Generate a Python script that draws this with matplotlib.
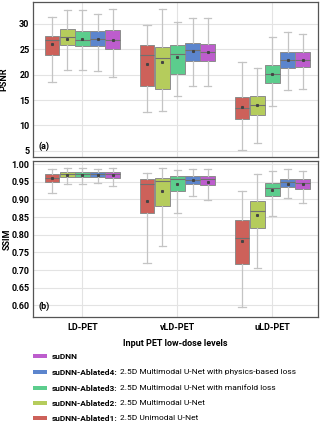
import matplotlib
matplotlib.use("Agg")
import matplotlib.pyplot as plt
from matplotlib.patches import Rectangle

plt.rcParams["font.family"] = ["Roboto", "DejaVu Sans"]

levels = ["LD-PET", "vLD-PET", "uLD-PET"]
methods = ["suDNN-Ablated1", "suDNN-Ablated2", "suDNN-Ablated3", "suDNN-Ablated4", "suDNN"]
descriptions = ["2.5D Unimodal U-Net", "2.5D Multimodal U-Net",
                "2.5D Multimodal U-Net with manifold loss",
                "2.5D Multimodal U-Net with physics-based loss", ""]
colors = ["#cd615a", "#b5cc5c", "#5ccd8d", "#5c85cd", "#bd5dcd"]

# per level, per method: (whislo, q1, median, mean, q3, whishi)
psnr = [
    [(18.6, 23.9, 26.8, 26.0, 27.7, 31.3),
     (21.0, 25.9, 27.4, 27.1, 29.0, 32.8),
     (21.0, 25.6, 26.9, 27.0, 28.6, 32.8),
     (20.8, 25.6, 27.0, 27.0, 28.6, 32.0),
     (19.6, 25.1, 26.8, 26.8, 28.8, 33.0)],
    [(12.7, 17.7, 23.9, 22.1, 25.9, 29.8),
     (12.8, 17.1, 23.3, 22.4, 25.4, 33.0),
     (15.9, 20.2, 24.1, 23.4, 25.8, 30.4),
     (17.7, 22.7, 24.8, 24.6, 26.3, 31.2),
     (17.8, 22.7, 24.5, 24.4, 26.1, 31.2)],
    [(5.1, 11.3, 13.4, 13.6, 15.7, 22.4),
     (6.6, 12.0, 14.0, 14.1, 15.9, 21.3),
     (13.8, 18.4, 20.1, 20.2, 21.9, 27.4),
     (16.9, 21.3, 22.9, 22.8, 24.4, 28.3),
     (17.2, 21.5, 22.9, 22.9, 24.4, 28.1)],
]
ssim = [
    [(0.917, 0.950, 0.962, 0.960, 0.972, 0.985),
     (0.943, 0.963, 0.971, 0.968, 0.977, 0.990),
     (0.945, 0.964, 0.972, 0.970, 0.977, 0.988),
     (0.946, 0.964, 0.971, 0.969, 0.977, 0.987),
     (0.938, 0.962, 0.973, 0.969, 0.978, 0.990)],
    [(0.720, 0.862, 0.943, 0.896, 0.957, 0.974),
     (0.769, 0.882, 0.953, 0.925, 0.962, 0.988),
     (0.863, 0.924, 0.957, 0.944, 0.967, 0.984),
     (0.910, 0.944, 0.956, 0.954, 0.967, 0.986),
     (0.898, 0.940, 0.957, 0.950, 0.967, 0.986)],
    [(0.594, 0.718, 0.790, 0.781, 0.841, 0.924),
     (0.706, 0.819, 0.866, 0.856, 0.897, 0.971),
     (0.852, 0.910, 0.932, 0.928, 0.946, 0.980),
     (0.903, 0.934, 0.949, 0.945, 0.957, 0.985),
     (0.891, 0.929, 0.947, 0.943, 0.957, 0.982)],
]

offsets = [-0.32, -0.16, 0.0, 0.16, 0.32]
width = 0.155
lc = "#c4c4c4"
fs = 6.5


def draw_panel(ax, data):
    for i, lev in enumerate(data):
        for j, (lo, q1, med, mean, q3, hi) in enumerate(lev):
            st = [{"whislo": lo, "q1": q1, "med": med, "mean": mean, "q3": q3,
                   "whishi": hi, "fliers": []}]
            ax.bxp(st, positions=[i + offsets[j]], widths=width, showmeans=True,
                   patch_artist=True, showfliers=False,
                   boxprops=dict(facecolor=colors[j], edgecolor="#8c8c8c", linewidth=0.7),
                   medianprops=dict(color="#707070", linewidth=0.8),
                   whiskerprops=dict(color=lc, linewidth=0.9),
                   capprops=dict(color=lc, linewidth=0.9),
                   meanprops=dict(marker="s", markersize=1.2, markerfacecolor="#444444",
                                  markeredgecolor="#444444"),
                   manage_ticks=False, zorder=3)
    ax.set_xlim(-0.52, 2.48)
    ax.set_xticks(range(3))
    ax.grid(True, color="#e3e3e3", linewidth=0.8, zorder=0)
    ax.set_axisbelow(True)
    for s in ax.spines.values():
        s.set_color("#555555")
        s.set_linewidth(0.9)
    ax.tick_params(length=0, labelsize=fs, pad=2.5)


fig = plt.figure(figsize=(3.23, 4.23), dpi=100)
ax1 = fig.add_axes([33 / 323, 1 - 157 / 423, 285 / 323, 155 / 423])
ax2 = fig.add_axes([33 / 323, 1 - 317 / 423, 285 / 323, 156 / 423])

draw_panel(ax1, psnr)
ax1.set_ylim(3.8, 34.3)
ax1.set_yticks([5, 10, 15, 20, 25, 30])
ax1.set_yticklabels(["5", "10", "15", "20", "25", "30"], fontweight="bold")
ax1.set_xticklabels([])
ax1.set_ylabel("PSNR", fontsize=fs, fontweight="bold")
ax1.yaxis.set_label_coords(-25 / 285, 0.5)
ax1.text(0.02, 0.05, "(a)", transform=ax1.transAxes, fontsize=fs, fontweight="bold")

draw_panel(ax2, ssim)
ax2.set_ylim(0.567, 1.009)
ssim_ticks = [0.60, 0.65, 0.70, 0.75, 0.80, 0.85, 0.90, 0.95, 1.00]
ax2.set_yticks(ssim_ticks)
ax2.set_yticklabels([f"{v:.2f}" for v in ssim_ticks], fontweight="bold")
ax2.set_xticklabels(levels, fontsize=fs, fontweight="bold")
ax2.tick_params(axis="x", pad=4)
ax2.set_ylabel("SSIM", fontsize=fs, fontweight="bold")
ax2.yaxis.set_label_coords(-21 / 285, 0.5)
ax2.set_xlabel("Input PET low-dose levels", fontsize=fs, labelpad=5, fontweight="bold")
ax2.text(0.02, 0.05, "(b)", transform=ax2.transAxes, fontsize=fs, fontweight="bold")

# legend, drawn by hand so the name is bold and the description is not
fig.canvas.draw()
renderer = fig.canvas.get_renderer()
legend_y = [418, 403, 388, 372, 356]
lfs = 6.0
for j in range(5):
    yc = 1 - legend_y[j] / 423
    fig.patches.append(Rectangle((33 / 323, yc - 2 / 423), 14 / 323, 4 / 423,
                                 transform=fig.transFigure, facecolor=colors[j],
                                 edgecolor="none"))
    name = methods[j] + (":" if descriptions[j] else "")
    t = fig.text(52 / 323, yc, name, fontsize=lfs, va="center", ha="left",
                 fontweight="bold")
    if descriptions[j]:
        bb = t.get_window_extent(renderer)
        fig.text(bb.x1 / fig.bbox.width + 2.5 / 323, yc, descriptions[j],
                 fontsize=lfs, va="center", ha="left")

fig.savefig("out.png", dpi=100)
